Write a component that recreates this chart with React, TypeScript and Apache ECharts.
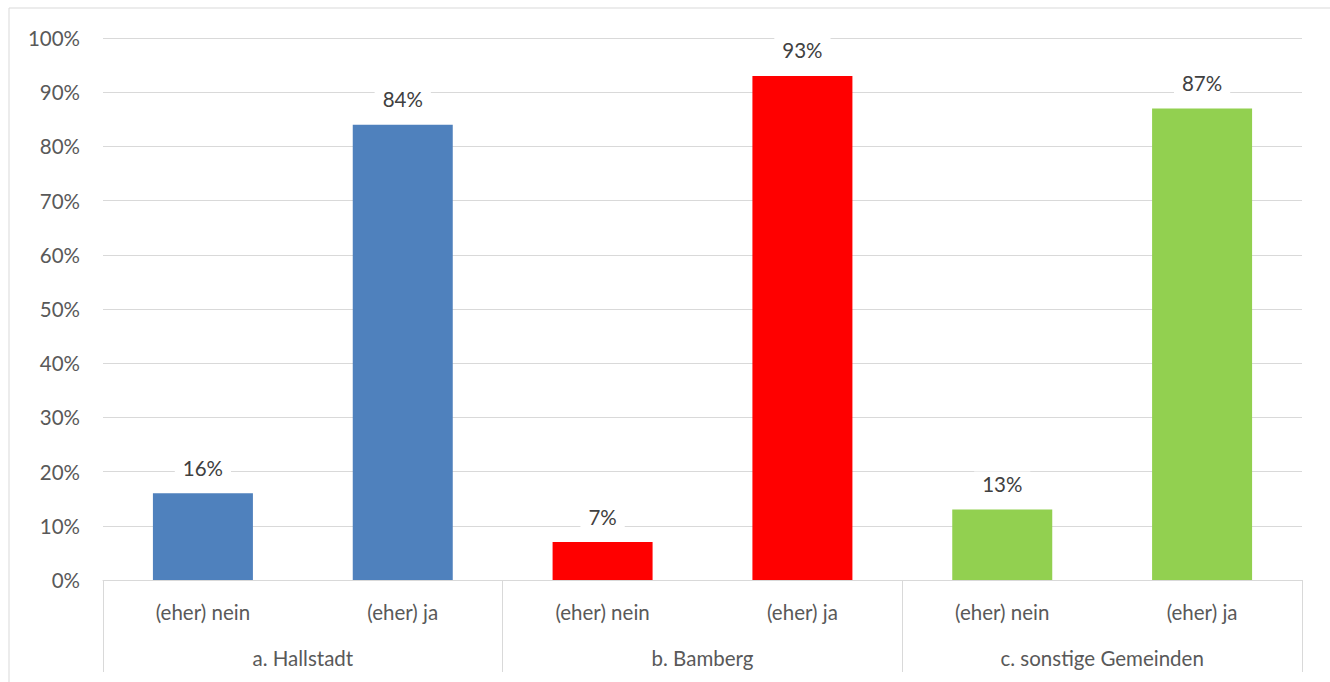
import React, { useEffect, useRef } from "react";
import * as echarts from "echarts";

const answers = ["(eher) nein", "(eher) ja", "(eher) nein", "(eher) ja", "(eher) nein", "(eher) ja"];
const groups = ["a. Hallstadt", "b. Bamberg", "c. sonstige Gemeinden"];
const values = [16, 84, 7, 93, 13, 87];
const barColors = ["#4F81BD", "#4F81BD", "#FF0000", "#FF0000", "#92D050", "#92D050"];

const FONT = "Lato, 'Open Sans', sans-serif";
const TXT = "#595959";
const GRID = "#D9D9D9";
const FS = 20.5;

export default function App() {
  const ref = useRef<HTMLDivElement>(null);
  useEffect(() => {
    const chart = echarts.init(ref.current!, null, { renderer: "svg" });
    chart.setOption({
      animation: false,
      backgroundColor: "#fff",
      textStyle: { fontFamily: FONT },
      graphic: [
        {
          type: "rect",
          shape: { x: 9, y: 8, width: 1340, height: 700 },
          style: { fill: "none", stroke: GRID, lineWidth: 1 },
          silent: true,
          z: -1,
        },
      ],
      grid: { left: 103, right: 28, top: 38, bottom: 102, containLabel: false },
      xAxis: [
        {
          type: "category",
          data: answers,
          position: "bottom",
          axisLine: { show: true, lineStyle: { color: GRID, width: 1 } },
          axisTick: { show: false },
          axisLabel: { color: TXT, fontSize: FS, fontFamily: FONT, margin: 21, interval: 0 },
        },
        {
          type: "category",
          data: groups,
          position: "bottom",
          axisLine: { show: false },
          axisTick: { show: true, length: 92, lineStyle: { color: GRID, width: 1 } },
          axisLabel: { color: TXT, fontSize: FS, fontFamily: FONT, margin: 67, interval: 0 },
        },
      ],
      yAxis: {
        type: "value",
        min: 0,
        max: 100,
        interval: 10,
        axisLine: { show: false },
        axisTick: { show: false },
        splitLine: { lineStyle: { color: GRID, width: 1 } },
        axisLabel: { color: TXT, fontSize: FS, fontFamily: FONT, margin: 23, formatter: "{value}%" },
      },
      series: [
        {
          type: "bar",
          xAxisIndex: 0,
          barWidth: 100,
          data: values.map((v, i) => ({ value: v, itemStyle: { color: barColors[i] } })),
          label: {
            show: true,
            position: "top",
            distance: 13,
            formatter: "{c}%",
            color: "#404040",
            fontSize: FS,
            fontFamily: FONT,
            backgroundColor: "#fff",
            padding: [2, 8, 2, 8],
          },
        },
      ],
    });
    return () => chart.dispose();
  }, []);
  return (
    <div
      ref={ref}
      style={{ position: "fixed", left: 0, top: 0, width: 1330, height: 682 }}
    />
  );
}
